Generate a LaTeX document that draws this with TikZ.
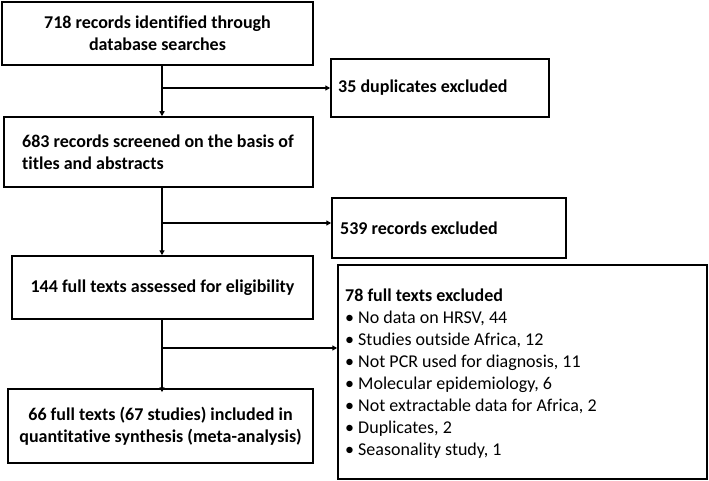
\documentclass[tikz,border=0pt]{standalone}
\usepackage{fontspec}
\setmainfont{Carlito}[Ligatures=NoCommon]
\usetikzlibrary{arrows.meta}
\newcommand{\bitem}{\mdseries\textbullet\ }
\begin{document}
\begin{tikzpicture}[x=1pt,y=-1pt,
  box/.style={draw, line width=1.5pt, inner sep=0pt, font=\fontsize{18}{22}\selectfont\bfseries, align=center},
  txt/.style={inner sep=0pt, font=\fontsize{18}{22}\selectfont\bfseries, align=flush left, anchor=west},
  arr/.style={line width=1.5pt, -{Triangle[length=5pt,width=5pt]}}]
\useasboundingbox (0,0) rectangle (709,481);
\node[box, minimum width=311pt, minimum height=63pt] (b1) at (157.5,33.5) {718 records identified through\\database searches};
\node[box, minimum width=309pt, minimum height=70pt] (b2) at (158.5,152) {};
\node[txt] (b2t) at (22,152) {683 records screened on the basis of\\titles and abstracts};
\node[box, minimum width=301pt, minimum height=63pt] (b3) at (162.5,287.5) {144 full texts assessed for eligibility};
\node[box, minimum width=305pt, minimum height=74pt] (b4) at (160.5,426) {66 full texts (67 studies) included in\\quantitative synthesis (meta-analysis)};
\node[box, minimum width=218pt, minimum height=58pt] (e1) at (440,88) {};
\node[txt] (e1t) at (338,88) {35 duplicates excluded};
\node[box, minimum width=234pt, minimum height=60pt] (e2) at (449,228) {};
\node[txt] (e2t) at (340,228) {539 records excluded};
\node[box, minimum width=369pt, minimum height=214pt] (e3) at (522.5,372) {};
\node[txt] (e3t) at (345,374) {78 full texts excluded\\
\bitem No data on HRSV, 44\\
\bitem Studies outside Africa, 12\\
\bitem Not PCR used for diagnosis, 11\\
\bitem Molecular epidemiology, 6\\
\bitem Not extractable data for Africa, 2\\
\bitem Duplicates, 2\\
\bitem Seasonality study, 1};
\coordinate (sp) at (162,0);
\coordinate (j1) at (162,88);
\coordinate (j2) at (162,223);
\coordinate (j3) at (162,348);
\draw[arr] (b1.south -| sp) -- (b2.north -| sp);
\draw[arr] (b2.south -| sp) -- (b3.north -| sp);
\draw[arr] (b3.south -| sp) -- ([yshift=-4pt]b4.north -| sp);
\draw[arr] (j1) -- (e1.west |- j1);
\draw[arr] (j2) -- (e2.west |- j2);
\draw[arr] (j3) -- (e3.west |- j3);
\end{tikzpicture}
\end{document}
